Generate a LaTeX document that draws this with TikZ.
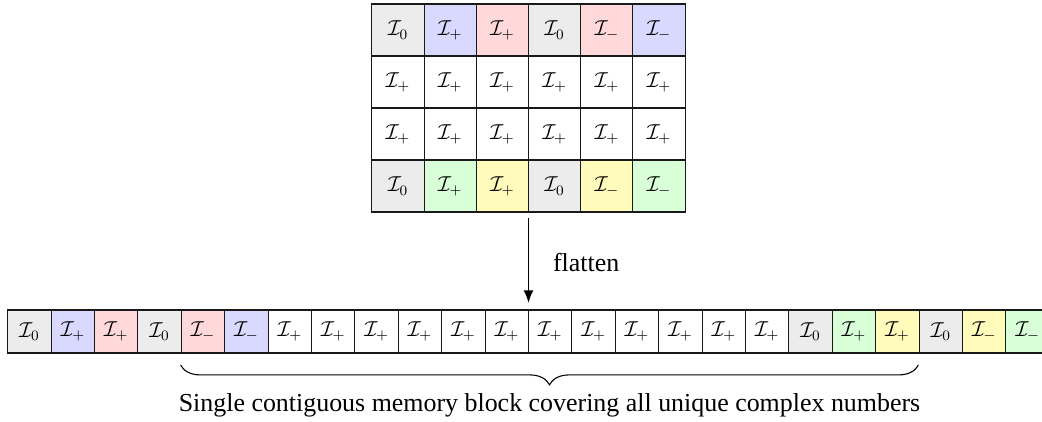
\documentclass[tikz,border=0pt]{standalone}
\usepackage[no-math]{fontspec}
\setmainfont{Liberation Serif}
\usetikzlibrary{arrows.meta,decorations.pathreplacing}
\newcommand{\Izero}{$\mathcal{I}_0$}
\newcommand{\Iplus}{$\mathcal{I}_+$}
\newcommand{\Iminus}{$\mathcal{I}_-$}
\def\ux{0.5556pt}
\tikzset{
  gcell/.style={draw=black!90, line width=0.6pt, minimum width=52.2*\ux, minimum height=52*\ux, inner sep=0pt, anchor=center, font=\large},
  rcell/.style={draw=black!90, line width=0.6pt, minimum width=43.4*\ux, minimum height=43*\ux, inner sep=0pt, anchor=center, font=\large},
  flowarrow/.style={-{Latex[length=7pt,width=5.5pt]}, line width=1pt},
  bracestyle/.style={decorate, decoration={brace, mirror, amplitude=11pt}, line width=0.6pt},
  lbl/.style={font=\Large, inner sep=0pt}
}
\begin{document}
\begin{tikzpicture}[x=0.5556pt,y=-0.5556pt]
\useasboundingbox (0,0) rectangle (1042,422);
% top grid
\foreach \fc/\lab [count=\c from 0] in {gray!15/\Izero, blue!15/\Iplus, red!15/\Iplus, gray!15/\Izero, red!15/\Iminus, blue!15/\Iminus}
  \node[gcell, fill=\fc] (ga\c) at ({371.9+52.2*(\c+0.5)}, 30) {\lab};
\foreach \c in {0,...,5}
  \node[gcell, fill=white] (gb\c) at ({371.9+52.2*(\c+0.5)}, 82) {\Iplus};
\foreach \c in {0,...,5}
  \node[gcell, fill=white] (gc\c) at ({371.9+52.2*(\c+0.5)}, 134) {\Iplus};
\foreach \fc/\lab [count=\c from 0] in {gray!15/\Izero, green!15/\Iplus, yellow!27/\Iplus, gray!15/\Izero, yellow!27/\Iminus, green!15/\Iminus}
  \node[gcell, fill=\fc] (gd\c) at ({371.9+52.2*(\c+0.5)}, 186) {\lab};
% flattened row
\foreach \fc/\lab [count=\c from 0] in {gray!15/\Izero, blue!15/\Iplus, red!15/\Iplus, gray!15/\Izero, red!15/\Iminus, blue!15/\Iminus,
  white/\Iplus, white/\Iplus, white/\Iplus, white/\Iplus, white/\Iplus, white/\Iplus,
  white/\Iplus, white/\Iplus, white/\Iplus, white/\Iplus, white/\Iplus, white/\Iplus,
  gray!15/\Izero, green!15/\Iplus, yellow!27/\Iplus, gray!15/\Izero, yellow!27/\Iminus, green!15/\Iminus}
  \node[rcell, fill=\fc] (r\c) at ({7.7+43.4*(\c+0.5)}, 331.5) {\lab};
% arrow
\coordinate (astart) at (528.5,218);
\coordinate (aend) at (528.5,303);
\draw[flowarrow] (astart) -- (aend);
\node[lbl, anchor=west] (fl) at (552.7,262.5) {flatten};
% brace
\coordinate (bl) at (180.6,365);
\coordinate (br) at (918.4,365);
\draw[bracestyle] (bl) -- (br);
\node[font=\Large, anchor=base, inner sep=0pt] (cap) at (549.5,411) {Single contiguous memory block covering all unique complex numbers};
\end{tikzpicture}
\end{document}
